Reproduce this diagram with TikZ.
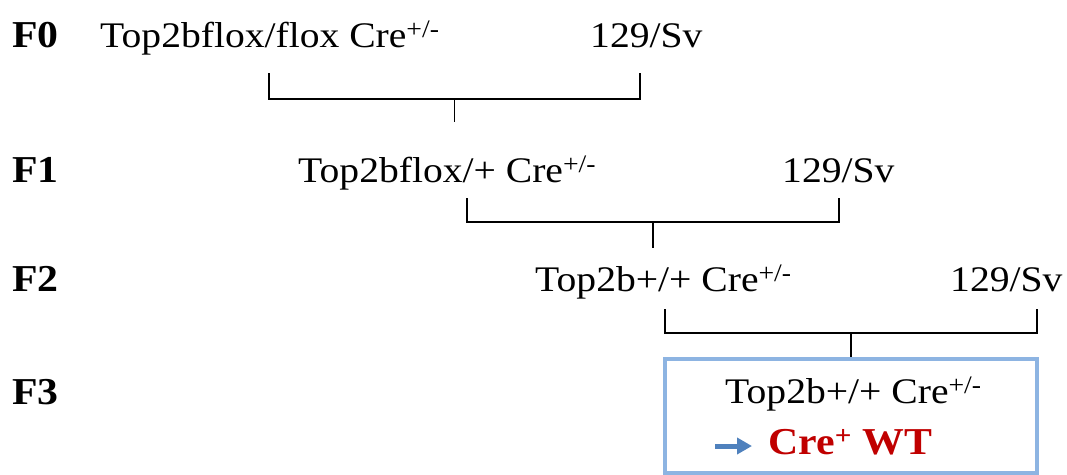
\documentclass[tikz,border=0pt]{standalone}
\usepackage{fontspec}
\setmainfont{Liberation Serif}[FakeStretch=1.1]
\usetikzlibrary{arrows.meta,calc}
\definecolor{boxblue}{RGB}{141,180,226}
\definecolor{arrowblue}{RGB}{79,129,189}
\definecolor{wtred}{RGB}{192,0,0}

\begin{document}
\begin{tikzpicture}[x=1pt,y=-1pt,
  gen/.style={anchor=base west,inner sep=0pt,font=\fontsize{36}{40}\selectfont},
  lbl/.style={gen,font=\fontsize{38}{42}\selectfont\bfseries},
  cross/.style={line width=1.8pt}]
\useasboundingbox (0,0) rectangle (1067,474);
\clip (0,0) rectangle (1067,474);

% generation labels
\node[lbl] (f0) at (12,47) {F0};
\node[lbl] (f1) at (12,182) {F1};
\node[lbl] (f2) at (12,291) {F2};
\node[lbl] (f3) at (12,404) {F3};

% parents of each cross
\node[gen] (p0) at (100,47) {Top2bflox/flox Cre\textsuperscript{+/-}};
\node[gen] (s0) at (590,47) {129/Sv};
\node[gen] (p1) at (298,182) {Top2bflox/+ Cre\textsuperscript{+/-}};
\node[gen] (s1) at (782,182) {129/Sv};
\node[gen] (p2) at (535,291) {Top2b+/+ Cre\textsuperscript{+/-}};
\node[gen] (s2) at (950,291) {129/Sv};

% brackets joining the parents
\coordinate (l0) at (269,73);  \coordinate (r0) at (640,73);
\coordinate (l1) at (467,198); \coordinate (r1) at (839,198);
\coordinate (l2) at (665,309); \coordinate (r2) at (1037,309);
\draw[cross] (l0) -- ++(0,26) coordinate (h0) -| (r0);
\draw[cross] (l1) -- ++(0,24) coordinate (h1) -| (r1);
\draw[cross] (l2) -- ++(0,24) coordinate (h2) -| (r2);
\draw[cross] ($(h0)!0.5!(h0-|r0)$) -- ++(0,23);
\draw[cross] ($(h1)!0.5!(h1-|r1)$) -- ++(0,26);

% F3 offspring
\node[draw=boxblue,line width=3.5pt,anchor=north,minimum width=372pt,minimum height=114pt,inner sep=0pt] (box) at (851,357) {};
\draw[cross] ($(h2)!0.5!(h2-|r2)$) -- (box.north);
\node[gen] (p3) at (725,403) {Top2b+/+ Cre\textsuperscript{+/-}};
\node[gen,text=wtred,font=\fontsize{38}{42}\selectfont\bfseries] (wt) at (768,454) {Cre\textsuperscript{+} WT};
\coordinate (tail) at (715,446);
\draw[arrowblue,line width=5pt,-{Triangle[length=15pt,width=16pt]}] (tail) -- ([xshift=-16pt]tail -| wt.west);
\end{tikzpicture}
\end{document}
